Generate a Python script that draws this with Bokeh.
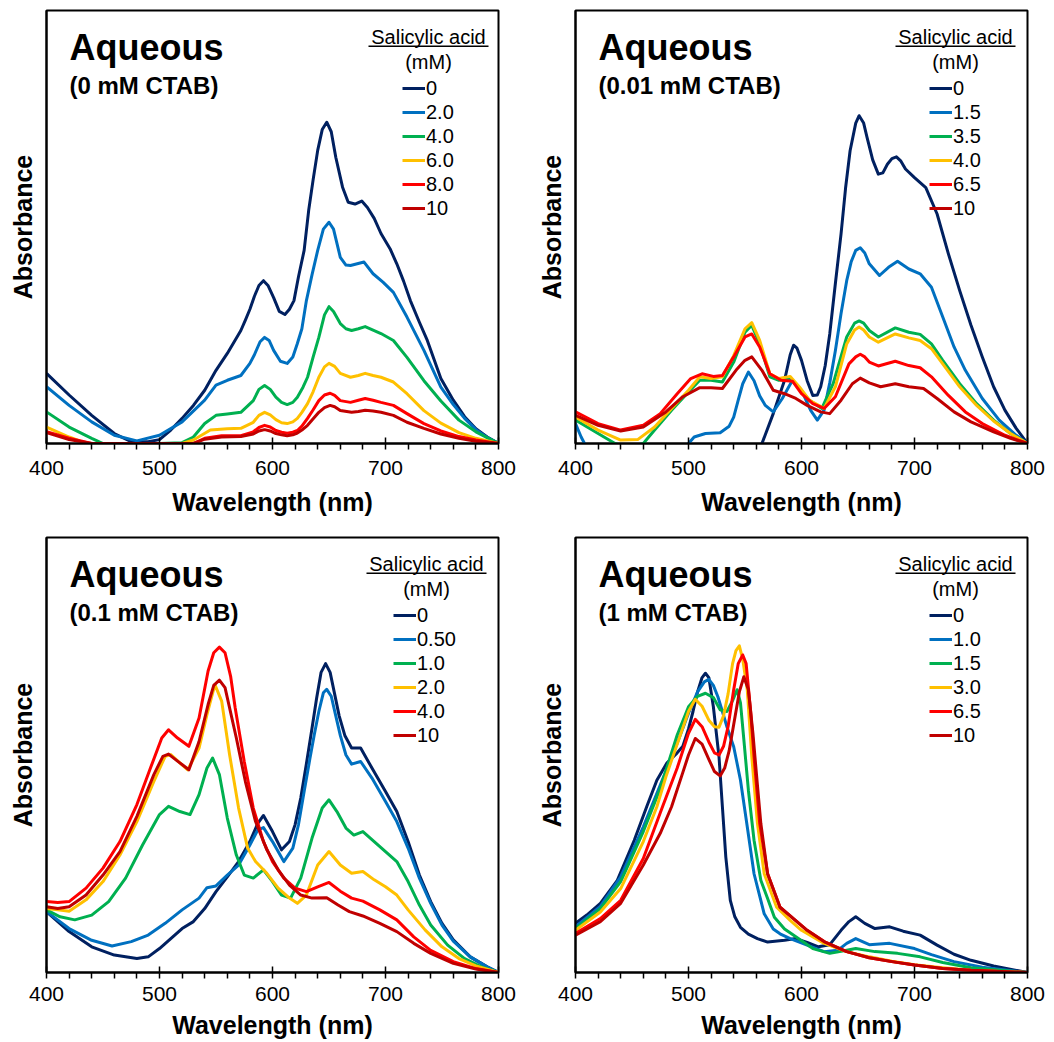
from bokeh.plotting import figure
from bokeh.layouts import column, row
from bokeh.models import Range1d, FixedTicker, Label, Legend, LegendItem, BoxAnnotation
from bokeh.embed import file_html
from bokeh.resources import INLINE

FONT = "Liberation Sans"
COLORS = ["#002060", "#0070C0", "#00B050", "#FFC000", "#FF0000", "#C00000"]

# ---------------- Panel 1: 0 mM CTAB ----------------
p1_labels = ["0", "2.0", "4.0", "6.0", "8.0", "10"]
p1_wl_0 = [400,420,440,460,475,490,500,510,520,530,540,550,560,572,576,580,584,588,592,596,601,606,611,615,619,623,628,632,636,640,644,648,652,656,662,667,673,679,684,690,696,704,710,716,722,730,737,749,760,770,780,790,800]
p1_ab_0 = [0.162,0.112,0.065,0.023,0.004,0.004,0.009,0.031,0.058,0.088,0.123,0.169,0.208,0.261,0.285,0.31,0.34,0.365,0.376,0.365,0.337,0.305,0.298,0.31,0.33,0.385,0.446,0.538,0.61,0.677,0.725,0.742,0.72,0.661,0.592,0.557,0.553,0.56,0.545,0.52,0.485,0.45,0.415,0.375,0.33,0.28,0.238,0.15,0.1,0.062,0.034,0.015,0.0]
p1_wl_1 = [400,420,440,460,480,500,520,540,550,560,572,580,584,589,593,597,601,607,613,618,622,626,630,635,640,645,650,654,660,665,669,675,681,689,698,707,719,734,749,760,770,780,790,800]
p1_ab_1 = [0.131,0.088,0.05,0.019,0.006,0.019,0.05,0.1,0.135,0.146,0.157,0.185,0.205,0.235,0.245,0.238,0.215,0.19,0.185,0.2,0.231,0.265,0.33,0.39,0.446,0.495,0.511,0.495,0.43,0.412,0.411,0.415,0.419,0.392,0.372,0.349,0.292,0.215,0.13,0.09,0.058,0.032,0.014,0.0]
p1_wl_2 = [400,420,440,450,500,520,530,540,550,560,572,583,588,593,598,603,608,613,618,622,627,631,636,641,646,650,654,660,665,670,676,682,689,696,707,719,734,749,765,780,800]
p1_ab_2 = [0.073,0.038,0.012,0.0,0.0,0.002,0.015,0.046,0.065,0.068,0.072,0.099,0.125,0.134,0.125,0.107,0.095,0.09,0.095,0.107,0.13,0.153,0.2,0.245,0.297,0.316,0.305,0.277,0.265,0.261,0.265,0.27,0.262,0.254,0.238,0.199,0.145,0.098,0.054,0.027,0.0]
p1_wl_3 = [400,420,435,520,530,545,560,572,583,588,593,598,603,608,613,618,622,626,631,636,641,646,650,655,660,669,676,682,689,696,707,719,734,749,765,780,800]
p1_ab_3 = [0.038,0.015,0.0,0.0,0.008,0.031,0.034,0.035,0.049,0.065,0.072,0.066,0.055,0.048,0.046,0.05,0.058,0.072,0.092,0.12,0.153,0.177,0.185,0.178,0.162,0.153,0.157,0.162,0.157,0.153,0.142,0.115,0.076,0.047,0.025,0.012,0.0]
p1_wl_4 = [400,420,440,530,540,555,572,583,588,593,598,603,608,613,618,622,626,631,636,641,646,651,655,660,669,676,682,689,696,707,719,734,749,765,780,800]
p1_ab_4 = [0.027,0.012,0.0,0.0,0.012,0.018,0.018,0.027,0.037,0.042,0.038,0.03,0.026,0.024,0.026,0.03,0.04,0.058,0.078,0.099,0.112,0.116,0.111,0.099,0.095,0.1,0.104,0.1,0.095,0.088,0.069,0.046,0.029,0.016,0.008,0.0]
p1_wl_5 = [400,420,440,530,540,555,572,583,588,593,598,603,608,613,618,622,626,631,636,641,646,651,655,660,670,676,682,689,696,707,719,734,749,765,780,800]
p1_ab_5 = [0.025,0.009,0.0,0.0,0.01,0.015,0.016,0.022,0.029,0.032,0.029,0.023,0.02,0.018,0.02,0.024,0.031,0.042,0.057,0.072,0.083,0.088,0.085,0.076,0.072,0.074,0.077,0.075,0.072,0.065,0.049,0.035,0.022,0.012,0.005,0.0]

# ---------------- Panel 2: 0.01 mM CTAB ----------------
p2_labels = ["0", "1.5", "3.5", "4.0", "6.5", "10"]
p2_wl_0 = [560,565,575,585,590,593,596,600,605,610,614,617,621,625,630,635,639,643,648,651,655,658,663,668,672,676,680,684,688,692,700,710,720,730,740,750,760,770,780,790,800]
p2_ab_0 = [-0.03,0.0,0.069,0.146,0.205,0.227,0.22,0.192,0.145,0.111,0.112,0.131,0.18,0.253,0.37,0.484,0.59,0.676,0.74,0.757,0.74,0.707,0.655,0.622,0.625,0.645,0.658,0.662,0.652,0.634,0.614,0.591,0.53,0.438,0.353,0.273,0.2,0.131,0.077,0.035,0.0]
p2_wl_1 = [400,405,410,420,460,490,500,505,515,528,536,540,544,548,553,558,563,568,575,583,592,600,608,614,620,625,630,635,640,644,648,652,656,660,669,677,685,695,705,715,725,735,745,760,775,790,800]
p2_ab_1 = [0.046,0.015,-0.01,-0.05,-0.08,-0.03,0.0,0.015,0.023,0.025,0.04,0.061,0.1,0.138,0.165,0.145,0.11,0.088,0.073,0.104,0.146,0.123,0.077,0.054,0.077,0.14,0.215,0.3,0.376,0.42,0.446,0.452,0.44,0.415,0.388,0.407,0.421,0.403,0.392,0.361,0.292,0.223,0.169,0.104,0.054,0.019,0.0]
p2_wl_2 = [400,420,435,445,460,470,485,500,510,520,530,540,550,556,563,572,580,590,598,607,618,628,640,647,651,655,660,668,683,695,705,715,725,740,755,770,785,800]
p2_ab_2 = [0.054,0.023,0.0,-0.01,0.0,0.031,0.077,0.119,0.146,0.146,0.142,0.188,0.257,0.273,0.23,0.154,0.146,0.15,0.127,0.1,0.081,0.138,0.246,0.278,0.283,0.278,0.261,0.246,0.267,0.257,0.252,0.23,0.192,0.138,0.092,0.054,0.023,0.0]
p2_wl_3 = [400,420,440,455,470,485,500,510,520,530,540,550,556,563,572,580,590,598,607,620,630,640,647,651,655,660,668,683,695,705,715,725,740,755,770,785,800]
p2_ab_3 = [0.061,0.031,0.008,0.009,0.038,0.081,0.123,0.154,0.15,0.154,0.203,0.265,0.279,0.238,0.161,0.15,0.155,0.131,0.1,0.081,0.131,0.23,0.262,0.269,0.262,0.246,0.234,0.253,0.244,0.238,0.219,0.184,0.131,0.088,0.052,0.023,0.0]
p2_wl_4 = [400,420,440,460,475,490,502,512,522,530,540,550,556,563,572,582,592,600,610,620,630,642,648,652,656,660,668,683,695,705,715,730,745,760,780,800]
p2_ab_4 = [0.073,0.046,0.031,0.042,0.069,0.115,0.15,0.161,0.155,0.157,0.2,0.246,0.253,0.223,0.161,0.146,0.144,0.115,0.092,0.081,0.108,0.184,0.2,0.206,0.2,0.188,0.179,0.19,0.18,0.175,0.154,0.111,0.073,0.046,0.019,0.0]
p2_wl_5 = [400,420,440,460,480,495,510,520,530,542,550,556,565,575,585,595,605,617,625,635,645,652,660,670,683,695,708,720,735,750,770,785,800]
p2_ab_5 = [0.065,0.042,0.029,0.038,0.073,0.108,0.129,0.129,0.127,0.169,0.192,0.2,0.169,0.123,0.115,0.104,0.088,0.073,0.069,0.1,0.138,0.151,0.14,0.131,0.138,0.131,0.127,0.104,0.073,0.05,0.027,0.012,0.0]

# ---------------- Panel 3: 0.1 mM CTAB ----------------
p3_labels = ["0", "0.50", "1.0", "2.0", "4.0", "10"]
p3_wl_0 = [400,420,440,460,480,490,500,510,520,530,540,550,560,570,580,587,592,600,608,615,620,625,630,635,639,643,647,651,655,659,664,670,678,688,700,710,720,730,740,750,760,775,790,800]
p3_ab_0 = [0.14,0.094,0.059,0.04,0.032,0.036,0.055,0.078,0.101,0.117,0.147,0.186,0.22,0.255,0.301,0.343,0.361,0.324,0.282,0.301,0.34,0.401,0.48,0.562,0.63,0.69,0.71,0.69,0.64,0.59,0.545,0.516,0.516,0.47,0.416,0.37,0.301,0.224,0.163,0.113,0.075,0.036,0.013,0.0]
p3_wl_1 = [400,420,440,458,475,490,505,520,535,542,550,560,570,580,587,592,600,610,618,623,628,633,637,641,645,648,652,656,660,665,670,678,688,700,710,720,730,740,750,760,775,790,800]
p3_ab_1 = [0.14,0.101,0.074,0.061,0.071,0.086,0.113,0.144,0.171,0.195,0.199,0.224,0.247,0.293,0.328,0.333,0.301,0.255,0.286,0.34,0.416,0.49,0.547,0.6,0.643,0.651,0.635,0.59,0.545,0.5,0.479,0.485,0.447,0.393,0.347,0.286,0.217,0.159,0.109,0.072,0.036,0.013,0.0]
p3_wl_2 = [400,412,425,440,455,470,485,500,508,518,527,535,542,547,553,560,568,575,583,592,600,608,616,625,635,644,650,657,665,672,680,690,700,710,720,730,740,755,770,785,800]
p3_ab_2 = [0.144,0.128,0.121,0.132,0.163,0.217,0.293,0.363,0.382,0.37,0.363,0.409,0.47,0.493,0.455,0.355,0.27,0.224,0.217,0.236,0.209,0.178,0.171,0.217,0.309,0.378,0.397,0.37,0.332,0.316,0.324,0.301,0.278,0.255,0.209,0.155,0.109,0.063,0.032,0.013,0.0]
p3_wl_3 = [400,410,420,435,450,465,480,495,505,510,518,525,535,542,549,555,562,570,578,585,595,605,615,622,630,640,650,660,670,680,690,700,710,720,735,750,765,780,800]
p3_ab_3 = [0.147,0.144,0.141,0.167,0.209,0.27,0.347,0.439,0.497,0.501,0.482,0.466,0.516,0.593,0.662,0.624,0.501,0.378,0.286,0.255,0.228,0.194,0.171,0.159,0.178,0.247,0.278,0.247,0.228,0.232,0.213,0.197,0.178,0.144,0.098,0.059,0.032,0.015,0.0]
p3_wl_4 = [400,410,420,435,450,465,480,492,502,508,516,526,535,543,548,553,558,563,567,575,583,592,600,610,620,630,640,650,660,670,680,695,710,725,740,760,780,800]
p3_ab_4 = [0.163,0.161,0.163,0.194,0.24,0.301,0.386,0.47,0.539,0.558,0.539,0.52,0.585,0.693,0.735,0.748,0.735,0.68,0.608,0.485,0.378,0.301,0.255,0.217,0.194,0.186,0.197,0.207,0.187,0.171,0.164,0.144,0.121,0.082,0.051,0.025,0.009,0.0]
p3_wl_5 = [400,410,420,435,450,465,480,495,503,508,518,526,535,543,548,553,558,568,576,585,595,605,615,625,635,648,658,668,680,695,710,725,740,760,780,800]
p3_ab_5 = [0.151,0.147,0.151,0.178,0.224,0.278,0.359,0.455,0.497,0.502,0.482,0.466,0.531,0.616,0.66,0.672,0.655,0.539,0.439,0.347,0.282,0.236,0.201,0.178,0.171,0.172,0.155,0.14,0.13,0.113,0.094,0.067,0.044,0.021,0.008,0.0]

# ---------------- Panel 4: 1 mM CTAB ----------------
p4_labels = ["0", "1.0", "1.5", "3.0", "6.5", "10"]
p4_wl_0 = [400,410,422,437,452,463,472,481,490,495,500,504,508,512,515,518,522,527,530,533,537,541,546,553,561,570,585,595,605,615,625,635,642,648,656,665,678,690,705,720,735,750,770,800]
p4_ab_0 = [0.113,0.132,0.159,0.212,0.304,0.381,0.442,0.482,0.505,0.52,0.56,0.6,0.645,0.678,0.688,0.678,0.611,0.496,0.381,0.266,0.166,0.128,0.104,0.088,0.078,0.07,0.074,0.078,0.069,0.059,0.064,0.097,0.117,0.128,0.113,0.101,0.105,0.095,0.086,0.063,0.042,0.028,0.015,0.0]
p4_wl_1 = [400,422,440,460,475,490,500,508,514,518,522,526,530,534,540,546,552,558,567,575,581,590,605,620,632,640,648,660,678,700,715,735,760,800]
p4_ab_1 = [0.105,0.152,0.22,0.335,0.431,0.527,0.596,0.645,0.668,0.674,0.66,0.634,0.6,0.565,0.519,0.442,0.335,0.227,0.135,0.1,0.089,0.078,0.063,0.048,0.051,0.067,0.078,0.064,0.067,0.055,0.041,0.025,0.012,0.0]
p4_wl_2 = [400,422,440,460,475,490,500,508,515,522,528,534,539,543,546,549,553,558,564,570,576,585,595,610,625,640,648,665,685,705,725,750,800]
p4_ab_2 = [0.101,0.147,0.209,0.324,0.423,0.546,0.611,0.635,0.642,0.632,0.604,0.6,0.625,0.65,0.62,0.535,0.419,0.304,0.212,0.17,0.127,0.1,0.082,0.055,0.044,0.051,0.055,0.048,0.044,0.036,0.023,0.011,0.0]
p4_wl_3 = [400,422,440,460,472,480,490,500,506,512,518,523,527,531,535,539,542,545,548,552,556,561,567,578,590,600,620,640,660,680,700,725,750,800]
p4_ab_3 = [0.097,0.139,0.193,0.301,0.381,0.45,0.525,0.6,0.628,0.612,0.58,0.565,0.564,0.59,0.64,0.71,0.74,0.751,0.72,0.65,0.496,0.343,0.227,0.15,0.12,0.097,0.067,0.048,0.036,0.026,0.018,0.011,0.005,0.0]
p4_wl_4 = [400,422,440,460,477,490,500,506,512,518,523,527,531,535,540,544,548,551,555,558,563,570,581,590,605,620,640,660,680,700,725,750,800]
p4_ab_4 = [0.09,0.124,0.166,0.262,0.381,0.47,0.55,0.582,0.565,0.53,0.505,0.5,0.52,0.565,0.65,0.71,0.73,0.71,0.6,0.496,0.343,0.227,0.15,0.13,0.097,0.071,0.048,0.034,0.025,0.017,0.009,0.005,0.0]
p4_wl_5 = [400,422,440,460,475,485,495,500,506,512,518,523,528,532,536,540,545,549,553,557,560,564,570,581,590,605,620,640,660,680,700,725,750,800]
p4_ab_5 = [0.086,0.117,0.159,0.247,0.32,0.381,0.46,0.5,0.538,0.525,0.49,0.462,0.452,0.47,0.51,0.57,0.645,0.68,0.65,0.55,0.46,0.343,0.227,0.15,0.13,0.097,0.071,0.048,0.034,0.025,0.017,0.009,0.005,0.0]

x_ticks = [400, 500, 600, 700, 800]
x_minor = [t for t in range(420, 800, 20) if t % 100 != 0]


def make_panel(series, labels, subtitle, width, height, bl, br, bt, bb,
               legend_x, title_cx, lab_standoff, axlab_standoff):
    fw = width - bl - br
    fh = height - bt - bb

    def sx(px):
        return 400 + px * 400.0 / fw

    def sy(px):
        return 1 - px / fh

    p = figure(width=width, height=height, x_range=Range1d(400, 800),
               y_range=Range1d(0, 1), output_backend="svg",
               toolbar_location=None,
               min_border_left=bl, min_border_right=br,
               min_border_top=bt, min_border_bottom=bb)
    p.background_fill_color = "white"
    p.border_fill_color = "white"
    p.grid.grid_line_color = None
    p.outline_line_color = "black"
    p.outline_line_width = 2
    p.outline_line_alpha = 1

    ax = p.xaxis[0]
    ax.ticker = FixedTicker(ticks=x_ticks, minor_ticks=x_minor)
    ax.axis_line_color = "black"
    ax.axis_line_width = 2
    ax.major_tick_line_color = "black"
    ax.major_tick_line_width = 1.5
    ax.minor_tick_line_color = "black"
    ax.minor_tick_line_width = 1.5
    ax.major_tick_in = 6
    ax.major_tick_out = 6
    ax.minor_tick_in = 0
    ax.minor_tick_out = 6
    ax.major_label_text_font = FONT
    ax.major_label_text_font_size = "21px"
    ax.major_label_text_color = "black"
    ax.major_label_standoff = lab_standoff
    ax.axis_label = "Wavelength (nm)"
    ax.axis_label_text_font = FONT
    ax.axis_label_text_font_size = "25px"
    ax.axis_label_text_font_style = "bold"
    ax.axis_label_text_color = "black"
    ax.axis_label_standoff = axlab_standoff

    ay = p.yaxis[0]
    ay.ticker = FixedTicker(ticks=[])
    ay.major_tick_in = 0
    ay.major_tick_out = 0
    ay.minor_tick_in = 0
    ay.minor_tick_out = 0
    ay.axis_line_color = "black"
    ay.axis_line_width = 2
    ay.axis_label = "Absorbance"
    ay.axis_label_text_font = FONT
    ay.axis_label_text_font_size = "25px"
    ay.axis_label_text_font_style = "bold"
    ay.axis_label_text_color = "black"
    ay.axis_label_standoff = 10

    items = []
    for (wl, ab), lab, col in zip(series, labels, COLORS):
        r = p.line(wl, ab, line_color=col, line_width=3, line_join="round")
        items.append(LegendItem(label=lab, renderers=[r]))

    legend = Legend(items=items, location=(legend_x, fh - 210),
                    orientation="vertical", glyph_width=23, glyph_height=24,
                    label_height=24, label_width=20, spacing=0, padding=0,
                    margin=0, label_standoff=1, border_line_color=None,
                    background_fill_alpha=0, label_text_font=FONT,
                    label_text_font_size="20px", label_text_color="black",
                    label_text_baseline="middle")
    p.add_layout(legend)

    p.add_layout(Label(x=sx(23), y=sy(37), text="Aqueous", text_font=FONT,
                       text_font_style="bold", text_font_size="36px",
                       text_baseline="middle", text_align="left",
                       text_color="black"))
    p.add_layout(Label(x=sx(23), y=sy(75), text=subtitle, text_font=FONT,
                       text_font_style="bold", text_font_size="24px",
                       text_baseline="middle", text_align="left",
                       text_color="black"))

    p.add_layout(Label(x=sx(title_cx), y=sy(26), text="Salicylic acid",
                       text_font=FONT, text_font_size="20px",
                       text_baseline="middle", text_align="center",
                       text_color="black"))
    p.add_layout(BoxAnnotation(left=sx(title_cx - 60), right=sx(title_cx + 60),
                               top=sy(35), bottom=sy(36.5), fill_color="black",
                               fill_alpha=1, line_color=None))
    p.add_layout(Label(x=sx(title_cx), y=sy(51), text="(mM)",
                       text_font=FONT, text_font_size="20px",
                       text_baseline="middle", text_align="center",
                       text_color="black"))
    return p


s1 = [(p1_wl_0, p1_ab_0), (p1_wl_1, p1_ab_1), (p1_wl_2, p1_ab_2),
      (p1_wl_3, p1_ab_3), (p1_wl_4, p1_ab_4), (p1_wl_5, p1_ab_5)]
s2 = [(p2_wl_0, p2_ab_0), (p2_wl_1, p2_ab_1), (p2_wl_2, p2_ab_2),
      (p2_wl_3, p2_ab_3), (p2_wl_4, p2_ab_4), (p2_wl_5, p2_ab_5)]
s3 = [(p3_wl_0, p3_ab_0), (p3_wl_1, p3_ab_1), (p3_wl_2, p3_ab_2),
      (p3_wl_3, p3_ab_3), (p3_wl_4, p3_ab_4), (p3_wl_5, p3_ab_5)]
s4 = [(p4_wl_0, p4_ab_0), (p4_wl_1, p4_ab_1), (p4_wl_2, p4_ab_2),
      (p4_wl_3, p4_ab_3), (p4_wl_4, p4_ab_4), (p4_wl_5, p4_ab_5)]

f1 = make_panel(s1, p1_labels, "(0 mM CTAB)", 527, 521, 46, 29, 10, 78, 356, 382, 11, 10)
f2 = make_panel(s2, p2_labels, "(0.01 mM CTAB)", 519, 521, 48, 19, 10, 78, 354, 380, 11, 10)
f3 = make_panel(s3, p3_labels, "(0.1 mM CTAB)", 527, 521, 46, 29, 16, 70, 347, 380, 8, 7)
f4 = make_panel(s4, p4_labels, "(1 mM CTAB)", 519, 521, 48, 19, 16, 70, 354, 380, 8, 7)

layout = column(row(f1, f2), row(f3, f4))
open("out.html", "w").write(file_html(layout, INLINE))
